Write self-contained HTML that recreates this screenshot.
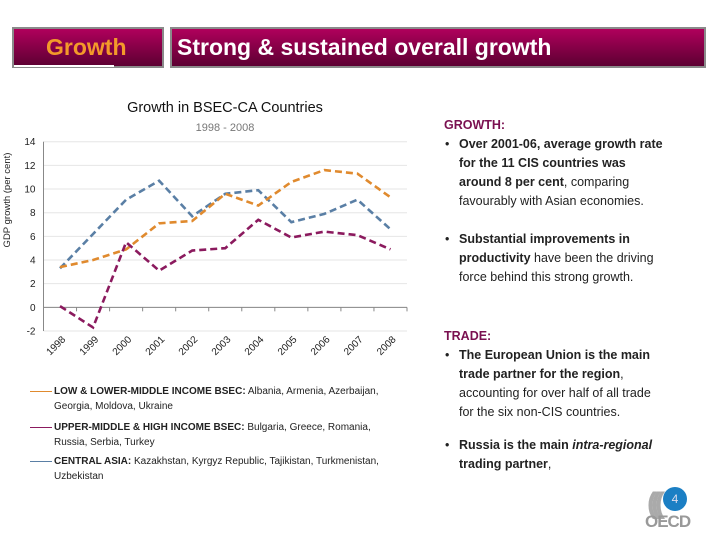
<!DOCTYPE html>
<html><head><meta charset="utf-8"><style>
body{margin:0;width:720px;height:540px;background:#fff;font-family:"Liberation Sans",sans-serif;position:relative;overflow:hidden}
.box{position:absolute;top:27px;height:41px;border:2px solid #8a8a8a;box-sizing:border-box;background:linear-gradient(#b0005c,#5c0032);color:#fff;font-weight:bold;font-size:23px;line-height:37px;white-space:nowrap}
.rt{position:absolute;left:440px;font-size:12.5px;line-height:19px;color:#222;width:280px;white-space:nowrap}
.rt .h{color:#7a1050;font-weight:bold;padding-left:4px}
.rt ul{margin:0;padding:0 0 0 19px;list-style:none}
.rt li{position:relative}
.rt li:before{content:"•";position:absolute;left:-14px}
.leg{position:absolute;left:30px;font-size:10px;line-height:15px;color:#222;width:390px;padding-left:24px;text-indent:-24px;white-space:nowrap}
.leg span.l{display:inline-block;width:22px;height:1px;vertical-align:middle;margin-right:2px}
</style></head><body>
<div class="box" style="left:12px;width:152px;padding-left:32px;color:#f39a2a">Growth</div>
<div style="position:absolute;left:14px;top:65px;width:100px;height:2px;background:#fff"></div>
<div class="box" style="left:170px;width:536px;padding-left:5px">Strong &amp; sustained overall growth</div>

<div style="position:absolute;left:60px;width:330px;top:100px;text-align:center;font-size:14.5px;color:#111">Growth in BSEC-CA Countries</div>
<div style="position:absolute;left:60px;width:330px;top:122px;text-align:center;font-size:11px;color:#777">1998 - 2008</div>

<svg id="chart" width="420" height="370" style="position:absolute;left:0;top:0" xmlns="http://www.w3.org/2000/svg"></svg>

<div class="leg" style="top:384px"><span class="l" style="background:#e08a2e"></span><b>LOW &amp; LOWER-MIDDLE INCOME BSEC:</b> Albania, Armenia, Azerbaijan,<br>Georgia, Moldova, Ukraine</div>
<div class="leg" style="top:420px"><span class="l" style="background:#8b1a5e"></span><b>UPPER-MIDDLE &amp; HIGH INCOME BSEC:</b> Bulgaria, Greece, Romania,<br>Russia, Serbia, Turkey</div>
<div class="leg" style="top:454px"><span class="l" style="background:#5a7fa5"></span><b>CENTRAL ASIA:</b> Kazakhstan, Kyrgyz Republic, Tajikistan, Turkmenistan,<br>Uzbekistan</div>

<div class="rt" style="top:116px">
<div class="h">GROWTH:</div>
<ul><li><b>Over 2001-06, average growth rate<br>for the 11 CIS countries was<br>around 8 per cent</b>, comparing<br>favourably with Asian economies.</li></ul>
<ul style="margin-top:19px"><li><b>Substantial improvements in<br>productivity</b> have been the driving<br>force behind this strong growth.</li></ul>
</div>
<div class="rt" style="top:327px">
<div class="h">TRADE:</div>
<ul><li><b>The European Union is the main<br>trade partner for the region</b>,<br>accounting for over half of all trade<br>for the six non-CIS countries.</li></ul>
<ul style="margin-top:14px"><li><b>Russia is the main <i>intra-regional</i><br>trading partner</b>,</li></ul>
</div>
<div style="position:absolute;left:645px;top:487px;width:50px;height:45px">
<div style="position:absolute;left:2px;top:0;font-size:30px;color:#aaa;font-weight:bold;letter-spacing:-6px">(((</div>
<div style="position:absolute;left:18px;top:0;width:24px;height:24px;border-radius:50%;background:#1b7fc4;color:#dde;font-size:12px;text-align:center;line-height:24px">4</div>
<div style="position:absolute;left:0;top:25px;font-size:17px;font-weight:bold;color:#999;letter-spacing:-1px">OECD</div>
</div>

<script>
const years=["1998","1999","2000","2001","2002","2003","2004","2005","2006","2007","2008"];
const lowIncome=[3.4,4.0,4.9,7.1,7.3,9.6,8.6,10.6,11.6,11.3,9.3];
const upperIncome=[0.1,-1.7,5.5,3.1,4.8,5.0,7.4,5.9,6.4,6.1,4.9];
const centralAsia=[3.3,6.2,9.1,10.7,7.7,9.6,9.9,7.2,7.9,9.1,6.6];
const yTicks=[-2,0,2,4,6,8,10,12,14];
const svg=document.getElementById('chart');
const NS="http://www.w3.org/2000/svg";
const x0=43.5,x1=407,yTop=141.7,yBot=331,yMin=-2,yMax=14;
const step=(x1-x0)/years.length;
const X=i=>x0+step*(i+0.5);
const Y=v=>yBot-(v-yMin)/(yMax-yMin)*(yBot-yTop);
function mk(t,a){const e=document.createElementNS(NS,t);for(const k in a)e.setAttribute(k,a[k]);svg.appendChild(e);return e;}
yTicks.forEach(v=>{
 const g=mk('line',{x1:x0,x2:x1,y1:Y(v),y2:Y(v),stroke:'#e6e6e6','stroke-width':1});
 
 
 const t=mk('text',{x:x0-8,y:Y(v)+3.5,'text-anchor':'end','font-size':10,fill:'#222','font-family':'Liberation Sans, sans-serif'});
 t.textContent=v;
 
 
});
const ya=mk('line',{x1:x0,x2:x0,y1:yTop,y2:yBot,stroke:'#888'});


const xa=mk('line',{x1:x0,x2:x1,y1:Y(0),y2:Y(0),stroke:'#888'});


years.forEach((y,i)=>{
 const tk=mk('line',{x1:x0+step*(i+1),x2:x0+step*(i+1),y1:Y(0),y2:Y(0)+4,stroke:'#888'});
 
 
 const t=mk('text',{x:X(i)+6,y:340,'text-anchor':'end','font-size':10,fill:'#222','font-family':'Liberation Sans, sans-serif',transform:`rotate(-45 ${X(i)+6} 340)`});
 t.textContent=y;
 
 
});
const yl=mk('text',{x:10,y:200,'text-anchor':'middle','font-size':9.5,fill:'#222',transform:'rotate(-90 10 200)','font-family':'Liberation Sans, sans-serif'});
yl.textContent='GDP growth (per cent)';


[[centralAsia,'#5a7fa5','series-central-asia'],[lowIncome,'#e08a2e','series-low-income'],[upperIncome,'#8b1a5e','series-upper-income']].forEach(([d,c,n])=>{
 const p=mk('polyline',{points:d.map((v,i)=>X(i)+','+Y(v)).join(' '),fill:'none',stroke:c,'stroke-width':2.6,'stroke-dasharray':'7 4'});
 
 
});
</script>
</body></html>
